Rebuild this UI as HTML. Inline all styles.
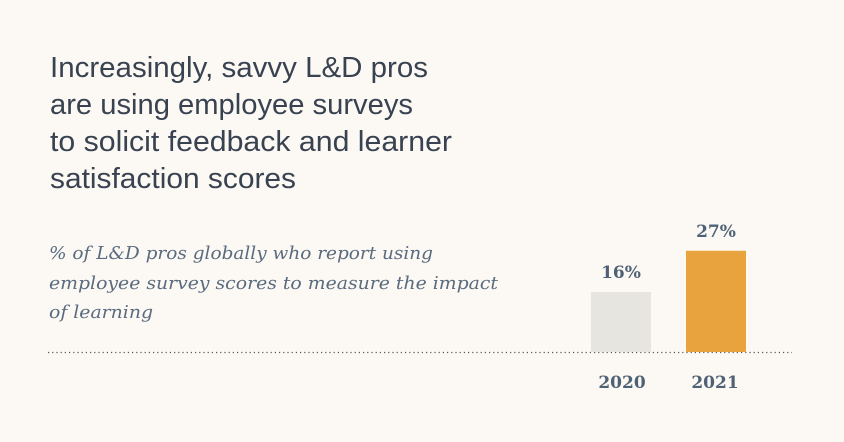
<!DOCTYPE html>
<html><head><meta charset="utf-8"><style>
html,body{margin:0;padding:0;background:#fcf9f5;}
svg{display:block}
</style></head><body>
<svg width="844" height="442" viewBox="0 0 844 442">
<rect width="844" height="442" fill="#fcf9f5"/>
<g font-family="'Liberation Sans', sans-serif" font-size="29" fill="#384250">
<text x="50" y="77" textLength="378" lengthAdjust="spacingAndGlyphs">Increasingly, savvy L&amp;D pros</text>
<text x="50" y="114" textLength="363" lengthAdjust="spacingAndGlyphs">are using employee surveys</text>
<text x="50" y="151" textLength="402" lengthAdjust="spacingAndGlyphs">to solicit feedback and learner</text>
<text x="50" y="188" textLength="246" lengthAdjust="spacingAndGlyphs">satisfaction scores</text>
</g>
<g font-family="'DejaVu Serif', 'Liberation Serif', serif" font-style="italic" font-size="18" fill="#5a6b7e">
<text x="49" y="259" textLength="384" lengthAdjust="spacingAndGlyphs">% of L&amp;D pros globally who report using</text>
<text x="49" y="289" textLength="449" lengthAdjust="spacingAndGlyphs">employee survey scores to measure the impact</text>
<text x="49" y="318" textLength="104" lengthAdjust="spacingAndGlyphs">of learning</text>
</g>
<line x1="48" y1="352.5" x2="792" y2="352.5" stroke="#555" stroke-width="1.2" stroke-dasharray="1.2 3"/>
<g id="bars"></g>
</svg>
<script>
const categories = ["2020", "2021"];
const values = [16, 27];
const valueLabels = ["16%", "27%"];
const colors = ["#e7e5e0", "#e8a33e"];
const baseY = 352, pxPerUnit = 3.75;
function y(v){ return baseY - v * pxPerUnit; }
function x(i){ return 591 + i * 95; }
const barW = 60;
const g = document.getElementById('bars');
const NS = "http://www.w3.org/2000/svg";
categories.forEach((c, i) => {
  const r = document.createElementNS(NS, 'rect');
  
  
  r.setAttribute('x', x(i)); r.setAttribute('y', y(values[i]));
  r.setAttribute('width', barW); r.setAttribute('height', baseY - y(values[i]));
  r.setAttribute('fill', colors[i]);
  g.appendChild(r);
  const t = document.createElementNS(NS, 'text');
  
  
  t.setAttribute('x', x(i) + barW / 2); t.setAttribute('y', y(values[i]) - 14);
  t.setAttribute('text-anchor', 'middle');
  t.setAttribute('font-family', "'DejaVu Serif', 'Liberation Serif', serif");
  t.setAttribute('font-weight', 'bold'); t.setAttribute('font-size', '17');
  t.setAttribute('fill', '#4f6275');
  t.textContent = valueLabels[i];
  g.appendChild(t);
  const l = document.createElementNS(NS, 'text');
  
  
  l.setAttribute('x', x(i) + barW / 2 + (i === 0 ? 1 : -1)); l.setAttribute('y', 388);
  l.setAttribute('text-anchor', 'middle');
  l.setAttribute('font-family', "'DejaVu Serif', 'Liberation Serif', serif");
  l.setAttribute('font-weight', 'bold'); l.setAttribute('font-size', '17');
  l.setAttribute('fill', '#4f6275');
  l.textContent = c;
  g.appendChild(l);
});
</script>
</body></html>
